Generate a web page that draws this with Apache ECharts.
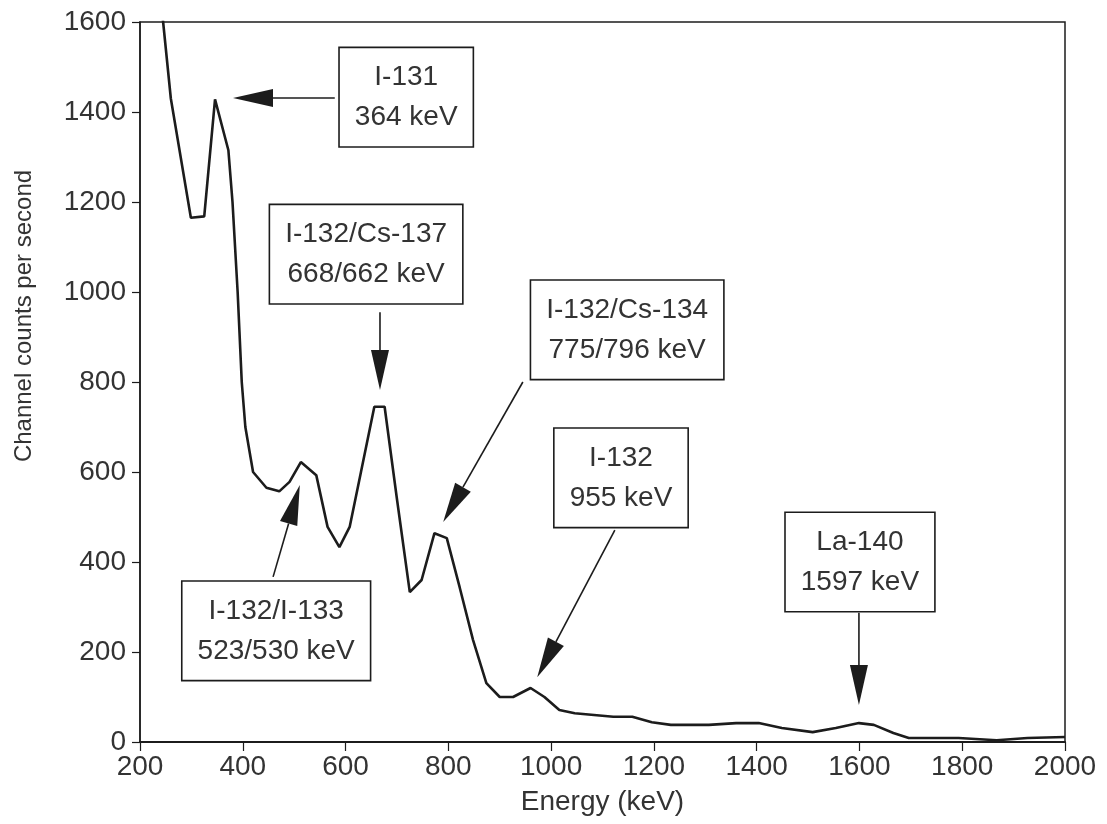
<!DOCTYPE html>
<html>
<head>
<meta charset="utf-8">
<script src="https://cdn.jsdelivr.net/npm/echarts@6/dist/echarts.min.js"></script>
<style>
html,body{margin:0;padding:0;background:#fff;}
#chart{width:1107px;height:824px;}
</style>
</head>
<body>
<div id="chart"></div>
<script>
// Spectrum data (keV, channel counts per second)
const energy = [235,245,260,299,325,346,372,380,390,398,405,420,446,471,491,513,543,565,588,608,630,656,676,700,725,748,773,797,822,848,874,900,926,960,987,1016,1046,1121,1158,1196,1233,1307,1360,1404,1449,1509,1554,1599,1628,1666,1696,1793,1867,1927,2000];
const counts = [1700,1600,1430,1165,1168,1428,1315,1200,1000,800,700,600,565,557,578,622,593,478,433,478,600,745,745,540,333,360,464,453,344,227,131,100,100,120,100,71,64,56,56,44,38,38,42,42,31,22,31,42,38,20,9,9,4,9,11];

const xTicks = [200,400,600,800,1000,1200,1400,1600,1800,2000];
const yTicks = [0,200,400,600,800,1000,1200,1400,1600];

// Annotations: text, box centre (data), arrow tail (data), arrow tip (data)
const annText  = ['I-131\n364 keV','I-132/Cs-137\n668/662 keV','I-132/Cs-134\n775/796 keV','I-132/I-133\n523/530 keV','I-132\n955 keV','La-140\n1597 keV'];
const annBoxX  = [718, 640, 1148, 465, 1136, 1601];
const annBoxY  = [1433, 1084, 916, 247, 587, 400];
const annTailX = [579, 667, 945, 459, 1124, 1599];
const annTailY = [1431, 955, 800, 367, 471, 287];
const annTipX  = [381, 667, 790, 511, 973, 1599];
const annTipY  = [1431, 782, 489, 571, 144, 82];

const FONT = '"Liberation Sans", Arial, Helvetica, sans-serif';
const TXT = '#333';
const INK = '#1c1c1c';

const lineData = energy.map((e,i)=>[e, counts[i]]);
const annData = annText.map((t,i)=>[annBoxX[i], annBoxY[i], annTailX[i], annTailY[i], annTipX[i], annTipY[i]]);

const chart = echarts.init(document.getElementById('chart'), null, {renderer:'canvas'});
chart.setOption({
  backgroundColor: '#fff',
  animation: false,
  grid: { left: 140, right: 42, top: 22, bottom: 82, show: true, borderColor: INK, borderWidth: 1.5, backgroundColor: 'transparent' },
  xAxis: {
    type: 'value', min: xTicks[0], max: xTicks[xTicks.length-1], interval: 200,
    name: 'Energy (keV)', nameLocation: 'middle', nameGap: 46,
    nameTextStyle: { fontFamily: FONT, fontSize: 28, color: TXT },
    axisLine: { show: true, onZero: false, lineStyle: { color: INK, width: 2 } },
    axisTick: { show: true, inside: false, length: 9, lineStyle: { color: INK, width: 1.2 } },
    axisLabel: { fontFamily: FONT, fontSize: 28, color: TXT, margin: 11, formatter: v => String(v) },
    splitLine: { show: false }
  },
  yAxis: {
    type: 'value', min: yTicks[0], max: yTicks[yTicks.length-1], interval: 200,
    name: 'Channel counts per second', nameLocation: 'middle', nameGap: 104,
    nameTextStyle: { fontFamily: FONT, fontSize: 24, color: TXT, padding: [0,0,0,132] },
    axisLine: { show: true, onZero: false, lineStyle: { color: INK, width: 1.5 } },
    axisTick: { show: true, inside: false, length: 8, lineStyle: { color: INK, width: 1.2 } },
    axisLabel: { fontFamily: FONT, fontSize: 28, color: TXT, margin: 14, formatter: v => String(v) },
    splitLine: { show: false }
  },
  series: [
    {
      type: 'line', data: lineData, showSymbol: false, symbol: 'none',
      lineStyle: { color: INK, width: 2.6 }, clip: true, z: 3
    },
    {
      type: 'custom', data: annData, z: 5, clip: false,
      renderItem: function(params, api) {
        const i = params.dataIndex;
        const c = api.coord([api.value(0), api.value(1)]);
        const s = api.coord([api.value(2), api.value(3)]);
        const t = api.coord([api.value(4), api.value(5)]);
        let dx = t[0]-s[0], dy = t[1]-s[1];
        const L = Math.sqrt(dx*dx+dy*dy); dx/=L; dy/=L;
        const headLen = 40, headHalf = 9;
        const b = [t[0]-dx*headLen, t[1]-dy*headLen];
        const n = [-dy, dx];
        return {
          type: 'group',
          children: [
            { type: 'line', shape: { x1: s[0], y1: s[1], x2: b[0], y2: b[1] }, style: { stroke: INK, lineWidth: 1.6 } },
            { type: 'polygon', shape: { points: [t, [b[0]+n[0]*headHalf, b[1]+n[1]*headHalf], [b[0]-n[0]*headHalf, b[1]-n[1]*headHalf]] }, style: { fill: INK } },
            { type: 'text', x: c[0], y: c[1], z2: 10,
              style: { text: annText[i], font: '28px ' + FONT, fill: TXT, align: 'center', verticalAlign: 'middle',
                       lineHeight: 40, backgroundColor: '#fff', borderColor: INK, borderWidth: 1.6, padding: [9, 15, 9, 15] } }
          ]
        };
      }
    }
  ]
});
</script>
</body>
</html>
